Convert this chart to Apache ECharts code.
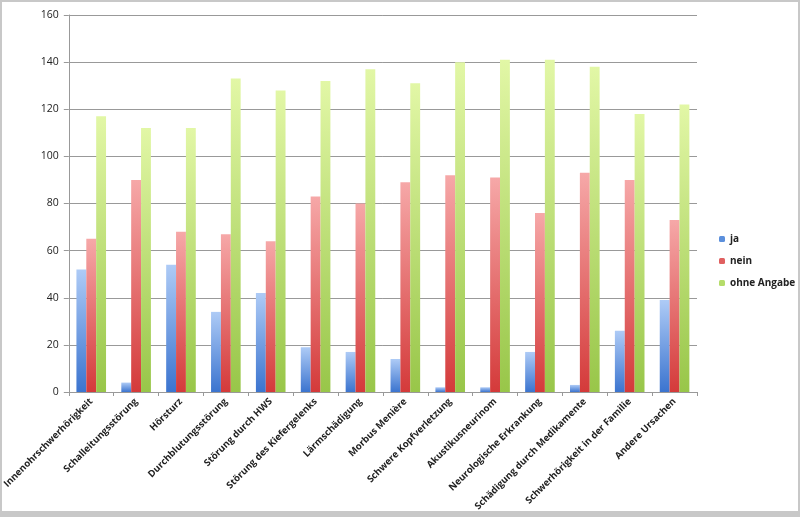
<!DOCTYPE html>
<html><head><meta charset="utf-8">
<script src="https://cdn.jsdelivr.net/npm/echarts@6/dist/echarts.min.js"></script>
<style>html,body{margin:0;padding:0;background:#fff}
#c{position:absolute;left:0;top:0;width:800px;height:517px}
#f{position:absolute;left:0;top:0;width:800px;height:517px;box-sizing:border-box;border:2px solid #c8c8c8;border-bottom-width:6px;pointer-events:none}</style>
</head><body><div id="c"></div><div id="f"></div>
<script>
const categories = ["Innenohrschwerhörigkeit","Schalleitungsstörung","Hörsturz","Durchblutungsstörung","Störung durch HWS","Störung des Kiefergelenks","Lärmschädigung","Morbus Menière","Schwere Kopfverletzung","Akustikusneurinom","Neurologische Erkrankung","Schädigung durch Medikamente","Schwerhörigkeit in der Familie","Andere Ursachen"];
const seriesNames = ["ja","nein","ohne Angabe"];
const ja = [52,4,54,34,42,19,17,14,2,2,17,3,26,39];
const nein = [65,90,68,67,64,83,80,89,92,91,76,93,90,73];
const ohne = [117,112,112,133,128,132,137,131,140,141,141,138,118,122];
const yTicks = {min:0,max:160,interval:20};

function grad(top,bottom){return new echarts.graphic.LinearGradient(0,0,0,1,[{offset:0,color:top},{offset:1,color:bottom}]);}
const colors = [grad('#aecbf6','#3b74cf'),grad('#f6a8a8','#d43a3a'),grad('#e2f7a6','#98c649')];
const legendColors = ['#5b8fdc','#e06060','#b5dc6a'];
const data = [ja,nein,ohne];
const chart = echarts.init(document.getElementById('c'),null,{renderer:'canvas'});
chart.setOption({
  animation:false,
  textStyle:{fontFamily:'"Open Sans", sans-serif'},
  grid:{left:68,right:103,top:15,bottom:125},
  legend:{orient:'vertical',left:714,top:229,itemWidth:6,itemHeight:6,itemGap:12,
    textStyle:{fontSize:10,fontWeight:'bold',color:'#222'},
    data:seriesNames.map((n,i)=>({name:n,itemStyle:{color:legendColors[i]}}))},
  xAxis:{type:'category',data:categories,
    axisLine:{lineStyle:{color:'#999'}},
    axisTick:{show:true,lineStyle:{color:'#999'},length:4},
    axisLabel:{rotate:45,interval:0,fontSize:9.5,fontWeight:'bold',color:'#222',margin:8}},
  yAxis:{type:'value',min:yTicks.min,max:yTicks.max,interval:yTicks.interval,
    axisLine:{show:true,lineStyle:{color:'#999'}},
    axisTick:{show:true,length:5,lineStyle:{color:'#999'}},
    splitLine:{lineStyle:{color:'#999'}},
    axisLabel:{fontSize:10.5,color:'#222',margin:10}},
  series:seriesNames.map((n,i)=>({name:n,type:'bar',data:data[i],barGap:'0%',barCategoryGap:'34%',
    itemStyle:{color:colors[i]}}))
});
</script></body></html>
